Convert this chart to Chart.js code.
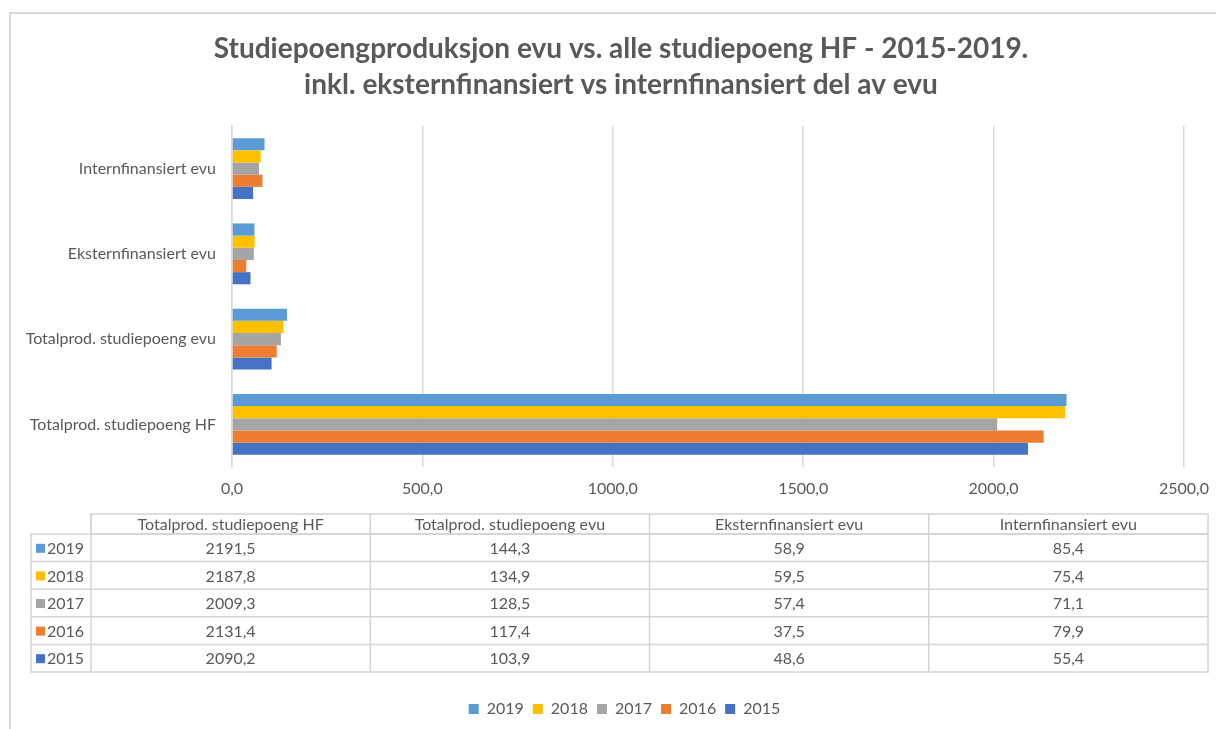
<!DOCTYPE html>
<html><head><meta charset="utf-8">
<script src="https://cdn.jsdelivr.net/npm/chart.js@4.4.1/dist/chart.umd.min.js"></script>
<style>
html,body{margin:0;padding:0;background:#fff;width:1216px;height:729px;overflow:hidden;}
#frame{position:absolute;left:9px;top:12px;width:1300px;height:800px;border:2px solid #d9d9d9;box-sizing:border-box;}
#wrap{position:absolute;left:0;top:0;width:1216px;height:729px;}
</style></head><body>
<div id="frame"></div>
<div id="wrap"><canvas id="c" width="1216" height="729"></canvas></div>
<script>
const categories = ['Totalprod. studiepoeng HF', 'Totalprod. studiepoeng evu', 'Eksternfinansiert evu', 'Internfinansiert evu'];
const years = ['2019', '2018', '2017', '2016', '2015'];
const values2019 = [2191.5, 144.3, 58.9, 85.4];
const values2018 = [2187.8, 134.9, 59.5, 75.4];
const values2017 = [2009.3, 128.5, 57.4, 71.1];
const values2016 = [2131.4, 117.4, 37.5, 79.9];
const values2015 = [2090.2, 103.9, 48.6, 55.4];
const seriesValues = [values2019, values2018, values2017, values2016, values2015];
const colors = ['#5B9BD5', '#FFC000', '#A5A5A5', '#ED7D31', '#4472C4'];
const xMin = 0, xMax = 2500, xStep = 500;
const titleLines = ['Studiepoengproduksjon evu vs. alle studiepoeng HF - 2015-2019.', 'inkl. eksternfinansiert vs internfinansiert del av evu'];

const FONT = 'Lato, "Open Sans", sans-serif';
const TXT = '#595959';
const GRID = '#d9d9d9';
const fmt = v => v.toFixed(1).replace('.', ',');

const tablePlugin = {
  id: 'dataTable',
  afterLayout(chart) {
    // centre title and legend over the plot like the original
    if (chart.titleBlock) chart.titleBlock.left += 58;
    if (chart.legend) chart.legend.left += 65;
  },
  afterDraw(chart) {
    const ctx = chart.ctx;
    const top = chart.chartArea.bottom + 47;
    const headerH = 20, rowH = 27.6;
    const firstL = 31, firstR = 91, right = 1208;
    const colW = (right - firstR) / categories.length;
    ctx.save();
    ctx.strokeStyle = '#d4d4d4';
    ctx.lineWidth = 1.5;
    ctx.strokeRect(firstR, top, right - firstR, headerH);
    for (let i = 1; i < categories.length; i++) {
      ctx.beginPath(); ctx.moveTo(firstR + colW * i, top); ctx.lineTo(firstR + colW * i, top + headerH + rowH * years.length); ctx.stroke();
    }
    ctx.strokeRect(firstL, top + headerH, right - firstL, rowH * years.length);
    ctx.beginPath(); ctx.moveTo(firstR, top); ctx.lineTo(firstR, top + headerH + rowH * years.length); ctx.stroke();
    for (let r = 1; r < years.length; r++) {
      const y = top + headerH + rowH * r;
      ctx.beginPath(); ctx.moveTo(firstL, y); ctx.lineTo(right, y); ctx.stroke();
    }
    ctx.fillStyle = TXT;
    ctx.font = '16px ' + FONT;
    ctx.textBaseline = 'middle';
    ctx.textAlign = 'center';
    categories.forEach((c, i) => ctx.fillText(c, firstR + colW * (i + 0.5), top + headerH / 2 + 1));
    years.forEach((y, r) => {
      const cy = top + headerH + rowH * (r + 0.5) + 1;
      ctx.fillStyle = colors[r];
      ctx.fillRect(36, cy - 5, 9, 9);
      ctx.fillStyle = TXT;
      ctx.textAlign = 'left';
      ctx.fillText(y, 47, cy);
      ctx.textAlign = 'center';
      seriesValues[r].forEach((v, i) => ctx.fillText(fmt(v), firstR + colW * (i + 0.5), cy));
    });
    ctx.restore();
  }
};

new Chart(document.getElementById('c'), {
  type: 'bar',
  data: {
    labels: categories,
    datasets: years.map((y, i) => ({
      label: y,
      data: seriesValues[i],
      backgroundColor: colors[i],
      borderWidth: 0,
      categoryPercentage: 0.714,
      barPercentage: 1.0
    }))
  },
  options: {
    responsive: false,
    animation: false,
    indexAxis: 'y',
    layout: { padding: { left: 0, right: 32, top: 0, bottom: 2 } },
    plugins: {
      tooltip: { enabled: false },
      title: {
        display: true,
        text: titleLines,
        color: TXT,
        font: { family: FONT, size: 28, weight: 'bold', lineHeight: 1.2857 },
        padding: { top: 31, bottom: 23 }
      },
      legend: {
        position: 'bottom',
        labels: {
          boxWidth: 10, boxHeight: 10, padding: 9,
          color: TXT,
          font: { family: FONT, size: 16 }
        }
      }
    },
    scales: {
      x: {
        min: xMin, max: xMax,
        ticks: { stepSize: xStep, callback: v => fmt(v), color: TXT, font: { family: FONT, size: 16, lineHeight: 2.375 }, padding: 3, maxRotation: 0 },
        grid: { color: GRID, lineWidth: 1.5, drawTicks: false },
        border: { display: false },
        afterFit(s) { s.height = 225; }
      },
      y: {
        reverse: true,
        ticks: { color: TXT, font: { family: FONT, size: 16 }, padding: 16 },
        grid: { color: 'rgba(0,0,0,0)', drawTicks: false },
        border: { display: true, color: GRID, width: 1.5 },
        afterFit(s) { s.width = 232; }
      }
    }
  },
  plugins: [tablePlugin]
});
</script>
</body></html>
